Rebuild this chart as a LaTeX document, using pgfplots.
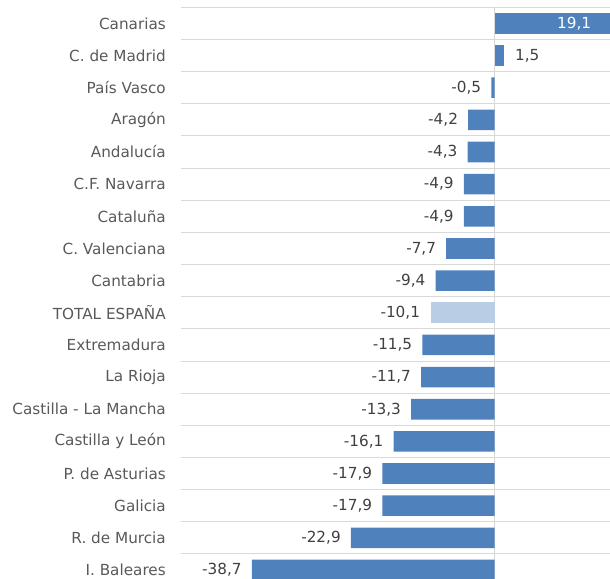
\documentclass[border=0pt]{standalone}
\usepackage{fontspec}
\setmainfont{DejaVu Sans}
\usepackage{pgfplots}
\pgfplotsset{compat=1.18}
\usepackage{pgfplotstable}
\definecolor{barblue}{HTML}{4F81BD}
\definecolor{barlight}{HTML}{B9CDE5}
\definecolor{gridgray}{HTML}{D9D9D9}
\definecolor{labgray}{HTML}{595959}
\definecolor{valgray}{HTML}{404040}

\pgfplotstableread{
y x lab
1 1.5 1,5
}\pos
\pgfplotstableread{
y x lab
0 19.1 19,1
}\canarias
\pgfplotstableread{
y x lab
2 -0.5 -0,5
3 -4.2 -4,2
4 -4.3 -4,3
5 -4.9 -4,9
6 -4.9 -4,9
7 -7.7 -7,7
8 -9.4 -9,4
10 -11.5 -11,5
11 -11.7 -11,7
12 -13.3 -13,3
13 -16.1 -16,1
14 -17.9 -17,9
15 -17.9 -17,9
16 -22.9 -22,9
17 -38.7 -38,7
}\neg
\pgfplotstableread{
y x lab
9 -10.1 -10,1
}\total

\begin{document}
\begin{tikzpicture}
\begin{axis}[
  at={(181bp,0bp)}, anchor=south west,
  scale only axis,
  width=438.9bp, height=571.7bp,
  xmin=-50, xmax=20,
  ymin=-0.5, ymax=17.28,
  y dir=reverse,
  xbar, bar width=20.6bp, bar shift=0pt,
  axis line style={draw=none},
  major tick length=0pt, minor tick length=0pt,
  xtick=\empty,
  extra x ticks={0}, extra x tick labels={},
  extra x tick style={grid=major, major grid style={draw=gridgray, line width=1bp}},
  ytick={0,...,17},
  yticklabels={Canarias, C. de Madrid, País Vasco, Aragón, Andalucía, C.F. Navarra, Cataluña, C. Valenciana, Cantabria, TOTAL ESPAÑA, Extremadura, La Rioja, Castilla - La Mancha, Castilla y León, P. de Asturias, Galicia, R. de Murcia, I. Baleares},
  yticklabel style={font=\fontsize{15.3}{17}\selectfont, text=labgray, anchor=east, inner sep=0pt, xshift=-15bp},
  minor ytick={-0.5,0.5,1.5,2.5,3.5,4.5,5.5,6.5,7.5,8.5,9.5,10.5,11.5,12.5,13.5,14.5,15.5,16.5},
  yminorgrids,
  minor grid style={draw=gridgray, line width=1bp},
  point meta=explicit symbolic,
  nodes near coords,
  every node near coord/.append style={font=\fontsize{15.3}{17}\selectfont, text=valgray, inner sep=0pt},
]
\addplot[fill=barblue, draw=none,
  every node near coord/.append style={anchor=east, xshift=-10bp}]
  table[x=x, y=y, meta=lab] {\neg};
\addplot[fill=barlight, draw=none,
  every node near coord/.append style={anchor=east, xshift=-11bp}]
  table[x=x, y=y, meta=lab] {\total};
\addplot[fill=barblue, draw=none,
  every node near coord/.append style={anchor=west, xshift=11bp}]
  table[x=x, y=y, meta=lab] {\pos};
\addplot[fill=barblue, draw=none,
  every node near coord/.append style={anchor=east, xshift=-23bp, text=white}]
  table[x=x, y=y, meta=lab] {\canarias};
\end{axis}
\pgfresetboundingbox
\path[use as bounding box] (0,0) rectangle (610bp,579bp);
\end{tikzpicture}
\end{document}
